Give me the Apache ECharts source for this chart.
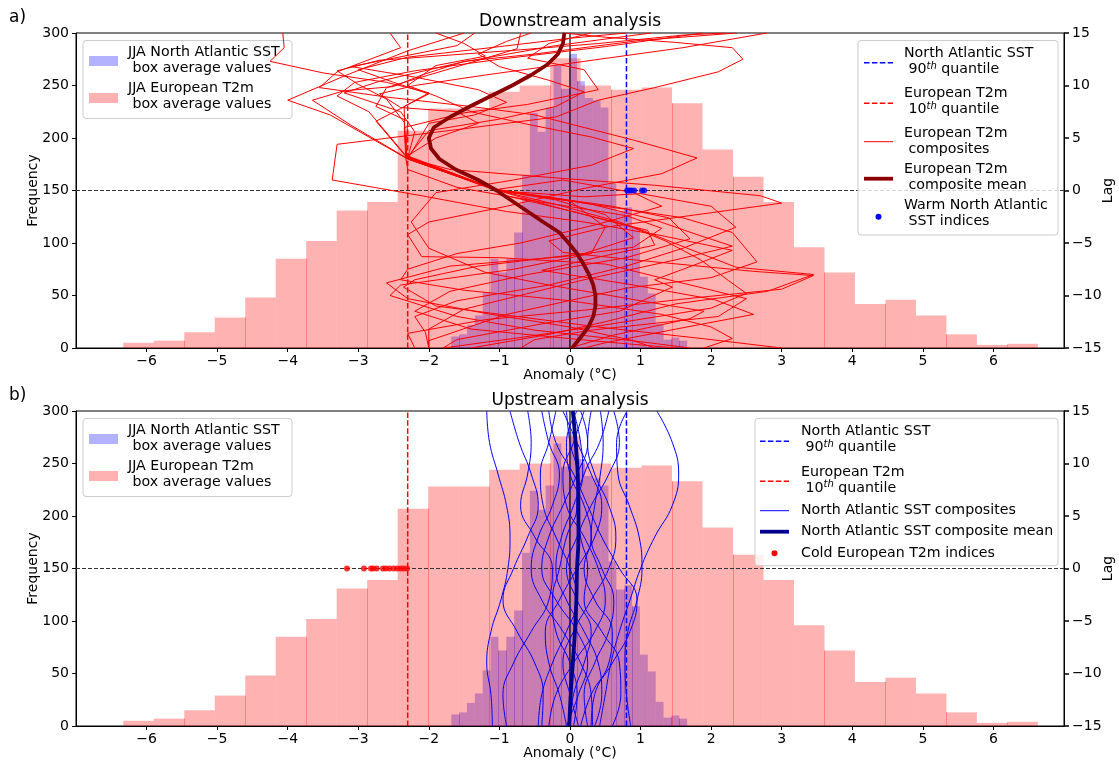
<!DOCTYPE html>
<html>
<head>
<meta charset="utf-8">
<script src="https://cdn.jsdelivr.net/npm/echarts@6/dist/echarts.min.js"></script>
<style>
  html, body { margin: 0; padding: 0; background: #ffffff; }
  #chart { width: 1119px; height: 762px; }
</style>
</head>
<body>
<div id="chart"></div>
<script>
// ---- Histogram data (JJA box averages) ----
const t2mRange = [-6.33, 6.63];
const t2mCounts = [5, 7, 15, 29, 48, 85, 102, 131, 139, 207, 228, 228, 244, 250, 276,
                   250, 246, 248, 233, 189, 163, 139, 96, 72, 42, 46, 31, 13, 3, 4];
const sstRange = [-1.683, 1.66];
const sstCounts = [11, 13, 22, 31, 53, 85, 72, 85, 110, 165, 224, 206, 229, 269, 247,
                   280, 254, 238, 236, 229, 157, 130, 134, 114, 68, 52, 23, 8, 10, 7];

// ---- Quantile thresholds ----
const sstQ90 = 0.8;
const t2mQ10 = -2.3;

// ---- Tick values ----
const xTicks = [-6, -5, -4, -3, -2, -1, 0, 1, 2, 3, 4, 5, 6];
const xLimits = [-7, 7];
const freqLimits = [0, 300];
const lagLimits = [-15, 15];

// ---- Event indices at lag 0 ----
const warmSstIdx = [0.81, 0.84, 0.87, 0.91, 1.02, 1.05];
const coldT2mIdx = [-3.16, -2.92, -2.82, -2.79, -2.74, -2.65, -2.61, -2.56, -2.5, -2.45, -2.4, -2.36, -2.31];

// ---- Downstream: European T2m composites, [anomaly, lag] ----
const t2mComposites = [
  [[-4.07,15],[-4.05,13.6],[-4.25,12.3],[-3.5,11.2],[-2.6,10.3],[-2.0,9.3],[-2.4,7.8],[-2.75,6.6],[-2.32,3.2],[-1.04,0.1],[0.3,-1.3],[1.2,-2.8],[1.8,-4.2],[2.3,-5.3],[1.5,-6.6],[0.2,-8.5],[-1.5,-11.3],[-2.0,-13.2],[-2.0,-15]],
  [[-1.5,15],[-2.3,13.3],[-3.2,10.9],[-4.0,8.6],[-3.4,7.2],[-2.3,3.0],[-1.02,0.0],[-0.2,-1.6],[0.95,-3.6],[1.7,-5.6],[2.35,-7.3],[3.45,-8.0],[2.8,-9.6],[1.5,-10.8],[0.5,-12.5],[-0.3,-13.7],[-1.4,-15]],
  [[-0.7,15],[-0.75,13.5],[-1.6,11.8],[-2.6,9.8],[-2.75,8.0],[-2.3,6.6],[-2.33,3.3],[-1.05,0.1],[0.6,-1.5],[1.4,-2.6],[1.7,-4.6],[0.8,-6.4],[-0.6,-8.0],[-1.7,-9.6],[-2.2,-11.5],[-1.4,-13.2],[0.3,-14.3],[1.5,-15]],
  [[1.15,15],[-0.2,13.8],[-1.55,12.2],[-2.7,10.4],[-3.2,9.3],[-2.4,7.5],[-2.2,5.6],[-2.3,3.1],[-1.03,0.0],[-0.2,-0.9],[0.5,-2.3],[0.9,-4.5],[0.2,-6.0],[-1.3,-7.2],[-2.2,-8.5],[-2.36,-9.2],[-1.9,-11.0],[0.4,-13.0],[2.0,-14.2],[3.0,-15]],
  [[1.88,15],[0.5,13.7],[-1.0,12.5],[-2.2,11.4],[-3.05,10.3],[-3.3,9.0],[-2.85,7.5],[-2.31,3.2],[-1.04,0.05],[-0.1,-1.5],[0.7,-3.0],[1.35,-4.8],[1.85,-6.6],[2.25,-8.6],[2.5,-9.8],[2.0,-11.2],[0.5,-12.8],[-0.7,-14.0],[-1.8,-15]],
  [[2.36,15],[1.0,14.3],[-0.5,13.0],[-1.5,12.3],[-2.1,11.0],[-2.5,9.9],[-3.2,9.5],[-3.65,8.6],[-3.1,6.2],[-2.29,3.0],[-1.0,0.0],[0.2,-1.2],[1.6,-2.6],[2.3,-4.0],[2.65,-6.8],[2.0,-8.3],[0.8,-9.3],[-0.9,-11.8],[-2.0,-14.3],[-2.0,-15]],
  [[2.79,15],[1.6,13.6],[0.2,12.3],[-1.2,11.0],[-2.2,10.0],[-2.7,9.2],[-2.4,7.9],[-1.6,7.5],[-1.3,6.4],[-1.9,5.0],[-2.3,3.3],[-1.06,0.1],[0.0,-1.0],[0.5,-3.5],[0.3,-6.0],[-0.8,-7.5],[-2.4,-9.0],[-2.55,-10.0],[-1.6,-12.0],[-0.5,-13.3],[1.0,-14.4],[1.7,-15]],
  [[-0.1,15],[0.5,14.6],[1.5,14.1],[2.3,13.6],[2.45,12.5],[2.1,11.3],[1.2,9.8],[0.4,8.6],[-0.2,7.0],[-1.6,5.8],[-3.3,4.4],[-3.37,1.0],[-2.1,-0.5],[-0.9,-2.0],[0.2,-3.0],[1.3,-4.3],[2.3,-5.7],[1.8,-7.0],[1.2,-8.5],[1.45,-9.2],[0.7,-11.5],[-0.4,-12.7],[-1.6,-14.2],[-1.8,-15]],
  [[-2.55,15],[-2.4,13.6],[-2.95,12.2],[-3.3,11.3],[-3.55,9.8],[-2.6,8.9],[-1.4,8.0],[-0.5,7.2],[0.2,6.0],[0.9,4.8],[1.8,3.1],[1.3,1.6],[0.2,0.2],[-0.9,-1.5],[-2.0,-3.0],[-2.3,-4.2],[-2.1,-6.3],[-1.0,-6.4],[0.5,-7.0],[1.4,-8.5],[2.5,-10.3],[2.1,-12.0],[0.3,-13.3],[-0.5,-14.2],[-0.7,-15]],
  [[0.3,15],[-0.3,14.0],[-0.6,12.6],[0.2,11.5],[0.4,9.6],[-0.6,8.2],[-1.5,7.4],[-2.35,6.0],[-2.32,3.1],[-1.05,0.0],[0.2,-0.6],[1.0,-0.3],[2.0,-1.5],[2.35,-3.5],[1.6,-5.5],[0.8,-7.2],[-0.3,-9.0],[-1.6,-10.5],[-2.2,-12.0],[-2.05,-13.5],[-2.0,-15]],
  [[-1.9,15],[-1.5,14.0],[-1.2,12.8],[-1.9,11.9],[-2.3,10.0],[-1.9,9.0],[-1.4,7.5],[-0.6,6.3],[0.3,5.1],[0.9,4.0],[0.3,2.4],[-0.8,1.0],[-1.9,-0.2],[-2.25,-3.0],[-2.0,-5.5],[-1.2,-7.8],[-0.3,-9.0],[1.0,-10.5],[1.9,-11.5],[1.7,-12.2],[0.6,-13.8],[0.0,-15]],
  [[-0.55,15],[-0.9,14.2],[-1.3,13.0],[-1.0,11.8],[-0.3,10.5],[0.2,9.4],[-0.2,8.0],[-1.0,6.8],[-2.0,5.7],[-2.3,3.2],[-1.04,0.1],[-0.1,1.0],[0.9,-0.2],[1.3,-1.5],[0.4,-3.2],[-0.7,-5.0],[-1.6,-6.0],[-2.3,-7.5],[-2.4,-8.5],[-1.5,-9.5],[0.0,-10.5],[1.3,-11.8],[2.0,-13.0],[2.3,-14.1],[1.9,-15]],
  [[2.2,15],[1.6,14.8],[0.4,14.0],[-0.7,13.4],[-1.7,12.9],[-2.7,12.4],[-3.3,11.4],[-3.0,10.1],[-2.6,8.7],[-2.35,6.5],[-2.31,3.1],[-1.7,2.0],[-0.2,1.2],[1.2,0.5],[2.7,-0.5],[3.0,-1.2],[1.8,-2.3],[0.5,-3.5],[-0.3,-4.8],[-0.1,-5.9],[0.9,-6.6],[2.6,-7.7],[3.45,-8.1],[3.0,-9.4],[1.8,-10.2],[0.2,-11.4],[-1.2,-12.3],[-2.3,-13.6],[-2.2,-15]],
  [[-1.35,15],[-1.6,13.8],[-2.5,12.6],[-3.1,11.8],[-2.2,10.8],[-1.3,9.6],[-0.9,8.4],[-1.35,7.2],[-2.0,6.4],[-2.3,3.0],[-1.02,0.0],[-0.9,-0.5],[0.1,-2.1],[1.1,-3.8],[1.2,-5.2],[0.5,-6.2],[-0.4,-7.6],[0.9,-9.0],[2.05,-10.4],[2.6,-11.8],[1.5,-13.2],[0.5,-14.5],[0.2,-15]],
  [[0.8,15],[0.0,14.5],[-1.0,13.7],[-2.3,12.7],[-3.0,11.5],[-2.5,10.3],[-2.0,9.2],[-2.35,8.0],[-2.33,3.2],[-2.3,2.0],[-1.6,0.3],[-0.5,-1.0],[0.8,-2.4],[1.3,-3.6],[0.9,-5.4],[-0.1,-6.3],[-1.7,-7.2],[-2.6,-8.8],[-2.3,-10.3],[-1.2,-11.7],[0.0,-13.0],[0.9,-14.3],[1.2,-15]]
];
const compositeLags = [15, 14, 13, 12, 11, 10, 9, 8, 7, 6, 5, 4, 3, 2, 1, 0,
                       -1, -2, -3, -4, -5, -6, -7, -8, -9, -10, -11, -12, -13, -14, -15];
const t2mCompositeMean = [-0.08, -0.1, -0.17, -0.32, -0.55, -0.82, -1.12, -1.42, -1.7, -1.93, -2.0, -1.97, -1.85, -1.62, -1.3, -1.04,
                          -0.82, -0.6, -0.38, -0.15, -0.02, 0.1, 0.19, 0.27, 0.33, 0.36, 0.36, 0.33, 0.26, 0.15, 0.03];

// ---- Upstream: North Atlantic SST composites (anomaly at sstLags) ----
const sstLags = [15, 12, 9, 6, 3, 0, -3, -6, -9, -12, -15];
const sstComposites = [
  [-1.18, -1.14, -1.02, -0.9, -0.85, -0.88, -0.98, -1.12, -1.18, -1.12, -1.1],
  [1.23, 1.45, 1.54, 1.45, 1.2, 1.0, 0.85, 0.7, 0.58, 0.5, 0.42],
  [0.81, 0.66, 0.68, 0.84, 0.98, 1.02, 0.95, 0.82, 0.78, 0.8, 0.86],
  [0.43, 0.47, 0.43, 0.35, 0.3, 0.45, 0.62, 0.55, 0.35, 0.2, 0.25],
  [-0.85, -0.72, -0.55, -0.45, -0.6, -0.8, -0.95, -0.75, -0.5, -0.38, -0.4],
  [-0.4, -0.3, -0.15, -0.25, -0.45, -0.55, -0.4, -0.1, 0.15, 0.3, 0.32],
  [-0.1, 0.1, 0.3, 0.45, 0.35, 0.1, -0.15, -0.35, -0.3, -0.15, -0.05],
  [0.2, 0.05, -0.1, -0.05, 0.2, 0.4, 0.5, 0.35, 0.05, -0.2, -0.3],
  [0.55, 0.42, 0.2, 0.1, 0.15, 0.25, 0.2, 0.45, 0.7, 0.72, 0.6],
  [-0.2, -0.3, -0.42, -0.38, -0.2, 0.0, 0.1, -0.05, -0.25, -0.4, -0.45],
  [0.05, 0.15, 0.18, 0.05, -0.12, -0.2, -0.05, 0.2, 0.4, 0.45, 0.35],
  [0.3, 0.25, 0.35, 0.55, 0.65, 0.55, 0.3, 0.05, -0.1, 0.0, 0.12],
  [-0.6, -0.55, -0.6, -0.7, -0.5, -0.25, -0.3, -0.55, -0.8, -0.95, -0.9],
  [0.1, -0.05, 0.0, 0.2, 0.3, 0.2, 0.35, 0.6, 0.55, 0.3, 0.15],
  [-0.05, 0.0, 0.1, 0.1, -0.05, -0.15, -0.25, -0.2, 0.0, 0.1, 0.05],
  [0.15, 0.25, 0.1, -0.1, -0.3, -0.4, -0.2, 0.1, 0.25, 0.12, -0.05],
  [0.62, 0.7, 0.55, 0.3, 0.1, -0.05, 0.1, 0.3, 0.2, 0.05, 0.0],
  [-0.3, -0.2, 0.05, 0.25, 0.45, 0.7, 0.95, 0.85, 0.6, 0.35, 0.3]
];
const sstCompositeMean = [0.04, 0.08, 0.11, 0.12, 0.12, 0.1, 0.09, 0.07, 0.04, 0.01, -0.01];

// ---- Styling ----
const FONT = 'DejaVu Sans';
const T2M_FILL = 'rgba(255,0,0,0.3)';
const SST_FILL = 'rgba(0,0,255,0.3)';

function binTable(range, counts) {
  const n = counts.length, w = (range[1] - range[0]) / n;
  return counts.map((c, i) => [range[0] + i * w, range[0] + (i + 1) * w, c, i > 0 ? counts[i - 1] : 0]);
}

function histRenderer(fill) {
  return function (params, api) {
    const x0 = api.value(0), x1 = api.value(1), h = api.value(2), prev = api.value(3);
    const a = api.coord([x0, 0]);
    const b = api.coord([x1, h]);
    const children = [{
      type: 'rect',
      shape: { x: a[0], y: b[1], width: b[0] - a[0], height: a[1] - b[1] },
      style: { fill: fill }
    }];
    // pixel seam where neighbouring bars overlap
    if (prev > 0 && (a[0] - Math.floor(a[0])) < 0.5) {
      const top = api.coord([x0, Math.min(h, prev)])[1];
      children.push({
        type: 'rect',
        shape: { x: Math.floor(a[0]), y: top, width: 1, height: a[1] - top },
        style: { fill: fill }
      });
    }
    return { type: 'group', children: children };
  };
}

const minusFmt = v => (v < 0 ? '\u2212' + Math.abs(v) : String(v));

const gridTops = [33, 411];
const grids = gridTops.map(t => ({
  left: 76, top: t, width: 988, height: 315, outerBoundsMode: 'none', containLabel: false,
  show: true, borderColor: '#000', borderWidth: 1, backgroundColor: 'transparent'
}));

const axisText = { fontFamily: FONT, fontSize: 14, color: '#000' };

const xAxes = [0, 1].map(i => ({
  type: 'value', gridIndex: i, min: xLimits[0], max: xLimits[1],
  name: 'Anomaly (°C)', nameLocation: 'middle', nameGap: 20, nameMoveOverlap: false,
  nameTextStyle: axisText,
  axisLine: { show: true, onZero: false, lineStyle: { color: '#000', width: 1 } },
  axisTick: { show: true, customValues: xTicks, length: 4, lineStyle: { color: '#000', width: 1 } },
  axisLabel: Object.assign({ customValues: xTicks, formatter: minusFmt, margin: 6 }, axisText),
  splitLine: { show: false }
}));

const yAxes = [];
[0, 1].forEach(i => {
  yAxes.push({
    type: 'value', gridIndex: i, position: 'left', min: freqLimits[0], max: freqLimits[1], interval: 50,
    name: 'Frequency', nameLocation: 'middle', nameGap: 36, nameRotate: 90, nameMoveOverlap: false,
    nameTextStyle: axisText,
    axisLine: { show: true, onZero: false, lineStyle: { color: '#000', width: 1 } },
    axisTick: { show: true, length: 4, lineStyle: { color: '#000', width: 1 } },
    axisLabel: Object.assign({ margin: 7 }, axisText),
    splitLine: { show: false }
  });
  yAxes.push({
    type: 'value', gridIndex: i, position: 'right', min: lagLimits[0], max: lagLimits[1], interval: 5,
    name: 'Lag', nameLocation: 'middle', nameGap: 37, nameRotate: 90, nameMoveOverlap: false,
    nameTextStyle: axisText,
    axisLine: { show: true, onZero: false, lineStyle: { color: '#000', width: 1 } },
    axisTick: { show: true, length: 5, lineStyle: { color: '#000', width: 1.5 } },
    axisLabel: Object.assign({ margin: 8, formatter: minusFmt }, axisText),
    splitLine: { show: false }
  });
});

const series = [];
[0, 1].forEach(p => {
  const freqAx = p * 2, lagAx = p * 2 + 1;
  series.push({
    type: 'custom', xAxisIndex: p, yAxisIndex: freqAx, z: 2,
    renderItem: histRenderer(SST_FILL), data: binTable(sstRange, sstCounts),
    encode: { x: [0, 1], y: 2 }, silent: true
  });
  series.push({
    type: 'custom', xAxisIndex: p, yAxisIndex: freqAx, z: 2,
    renderItem: histRenderer(T2M_FILL), data: binTable(t2mRange, t2mCounts),
    encode: { x: [0, 1], y: 2 }, silent: true
  });
  // zero anomaly line
  series.push({
    type: 'line', xAxisIndex: p, yAxisIndex: freqAx, z: 3, symbol: 'none', silent: true,
    data: [[0, freqLimits[0]], [0, freqLimits[1]]],
    lineStyle: { color: '#000', width: 1.2 }
  });
  // quantile thresholds
  series.push({
    type: 'line', xAxisIndex: p, yAxisIndex: freqAx, z: 3, symbol: 'none', silent: true,
    data: [[t2mQ10, freqLimits[0]], [t2mQ10, freqLimits[1]]],
    lineStyle: { color: '#ff0000', width: 1.5, type: [5.5, 2.4] }
  });
  series.push({
    type: 'line', xAxisIndex: p, yAxisIndex: freqAx, z: 3, symbol: 'none', silent: true,
    data: [[sstQ90, freqLimits[0]], [sstQ90, freqLimits[1]]],
    lineStyle: { color: '#0000ff', width: 1.5, type: [5.5, 2.4] }
  });
  // lag zero
  series.push({
    type: 'line', xAxisIndex: p, yAxisIndex: lagAx, z: 3, symbol: 'none', silent: true,
    data: [[xLimits[0], 0], [xLimits[1], 0]],
    lineStyle: { color: '#333333', width: 1, type: [4, 2] }
  });
});

// Downstream composites
t2mComposites.forEach(c => series.push({
  type: 'line', xAxisIndex: 0, yAxisIndex: 1, z: 4, symbol: 'none', silent: true, clip: true,
  data: c, lineStyle: { color: '#ff0000', width: 1 }
}));
series.push({
  type: 'line', xAxisIndex: 0, yAxisIndex: 1, z: 5, symbol: 'none', silent: true, clip: true,
  data: t2mCompositeMean.map((v, i) => [v, compositeLags[i]]),
  lineStyle: { color: '#8b0000', width: 3.8 }
});
series.push({
  type: 'scatter', xAxisIndex: 0, yAxisIndex: 1, z: 6, silent: true,
  data: warmSstIdx.map(v => [v, 0]), symbolSize: 6, itemStyle: { color: '#0000ff' }
});

// Upstream composites
sstComposites.forEach(c => series.push({
  type: 'line', xAxisIndex: 1, yAxisIndex: 3, z: 4, symbol: 'none', silent: true, clip: true, smooth: 0.45,
  data: c.map((v, i) => [v, sstLags[i]]), lineStyle: { color: '#0000ff', width: 1 }
}));
series.push({
  type: 'line', xAxisIndex: 1, yAxisIndex: 3, z: 5, symbol: 'none', silent: true, clip: true, smooth: 0.45,
  data: sstCompositeMean.map((v, i) => [v, sstLags[i]]),
  lineStyle: { color: '#00008b', width: 3.8 }
});
series.push({
  type: 'scatter', xAxisIndex: 1, yAxisIndex: 3, z: 6, silent: true,
  data: coldT2mIdx.map(v => [v, 0]), symbolSize: 6, itemStyle: { color: '#ff0000' }
});

// ---- Legends, titles and panel letters ----
const rich = { sup: { fontSize: 10, fontStyle: 'italic', fontFamily: FONT, verticalAlign: 'top', fill: '#000' } };
function txt(x, y, text, z, extra) {
  return Object.assign({
    type: 'text', x: x, y: y, z: z, silent: true,
    style: Object.assign({ text: text, fontFamily: FONT, fontSize: 14.2, fill: '#000',
      verticalAlign: 'middle', align: 'left', lineHeight: 16, rich: rich }, extra || {})
  });
}
function box(x, y, w, h, z) {
  return { type: 'rect', z: z, silent: true, shape: { x: x, y: y, width: w, height: h, r: 3 },
    style: { fill: 'rgba(255,255,255,0.8)', stroke: '#cccccc', lineWidth: 1 } };
}
function patch(x, y, fill, z) {
  return { type: 'rect', z: z, silent: true, shape: { x: x, y: y, width: 29, height: 10 }, style: { fill: fill } };
}
function handle(x, y, color, width, dash, z) {
  return { type: 'line', z: z, silent: true, shape: { x1: x, y1: y, x2: x + 29, y2: y },
    style: { stroke: color, lineWidth: width, lineDash: dash || null } };
}
function dot(x, y, color, z) {
  return { type: 'circle', z: z, silent: true, shape: { cx: x, cy: y, r: 3 }, style: { fill: color } };
}

const graphics = [];
// panel letters and titles
graphics.push(txt(9, 18, 'a)', 20, { fontSize: 17 }));
graphics.push(txt(9, 396, 'b)', 20, { fontSize: 17 }));
graphics.push(txt(570, 22, 'Downstream analysis', 20, { fontSize: 17, align: 'center' }));
graphics.push(txt(570, 401, 'Upstream analysis', 20, { fontSize: 17, align: 'center' }));

// histogram legends (both panels)
[0, 378].forEach(dy => {
  graphics.push(box(83, 40.5 + dy, 209, 78, 1));
  graphics.push(patch(89, 56 + dy, SST_FILL, 1));
  graphics.push(txt(128, 60 + dy, 'JJA North Atlantic SST\n box average values', 1));
  graphics.push(patch(89, 93 + dy, T2M_FILL, 1));
  graphics.push(txt(128, 96.5 + dy, 'JJA European T2m\n box average values', 1));
});

// downstream line legend
const zl = 10;
graphics.push(box(858, 40.5, 200, 194.5, zl));
graphics.push(handle(864, 62.7, '#0000ff', 1.5, [5.5, 2.4], zl));
graphics.push(txt(904, 61.2, 'North Atlantic SST\n 90{sup|th} quantile', zl));
graphics.push(handle(864, 103.3, '#ff0000', 1.5, [5.5, 2.4], zl));
graphics.push(txt(904, 101.4, 'European T2m\n 10{sup|th} quantile', zl));
graphics.push(handle(864, 141.7, '#ff0000', 1, null, zl));
graphics.push(txt(904, 140.9, 'European T2m\n composites', zl));
graphics.push(handle(864, 178.7, '#8b0000', 3.8, null, zl));
graphics.push(txt(904, 177.5, 'European T2m\n composite mean', zl));
graphics.push(dot(878.5, 216.7, '#0000ff', zl));
graphics.push(txt(904, 213.7, 'Warm North Atlantic\n SST indices', zl));

// upstream line legend
graphics.push(box(755, 418.3, 303, 147.4, zl));
graphics.push(handle(760, 441.3, '#0000ff', 1.5, [5.5, 2.4], zl));
graphics.push(txt(801, 439.2, 'North Atlantic SST\n 90{sup|th} quantile', zl));
graphics.push(handle(760, 481.3, '#ff0000', 1.5, [5.5, 2.4], zl));
graphics.push(txt(801, 479.9, 'European T2m\n 10{sup|th} quantile', zl));
graphics.push(handle(760, 510.7, '#0000ff', 1, null, zl));
graphics.push(txt(801, 510.7, 'North Atlantic SST composites', zl));
graphics.push(handle(760, 531.7, '#00008b', 3.8, null, zl));
graphics.push(txt(801, 531.7, 'North Atlantic SST composite mean', zl));
graphics.push(dot(774.5, 553.3, '#ff0000', zl));
graphics.push(txt(801, 553, 'Cold European T2m indices', zl));

const chart = echarts.init(document.getElementById('chart'), null, { renderer: 'canvas' });
chart.setOption({
  animation: false,
  backgroundColor: '#ffffff',
  textStyle: { fontFamily: FONT },
  grid: grids,
  xAxis: xAxes,
  yAxis: yAxes,
  series: series,
  graphic: { elements: graphics }
});
</script>
</body>
</html>
